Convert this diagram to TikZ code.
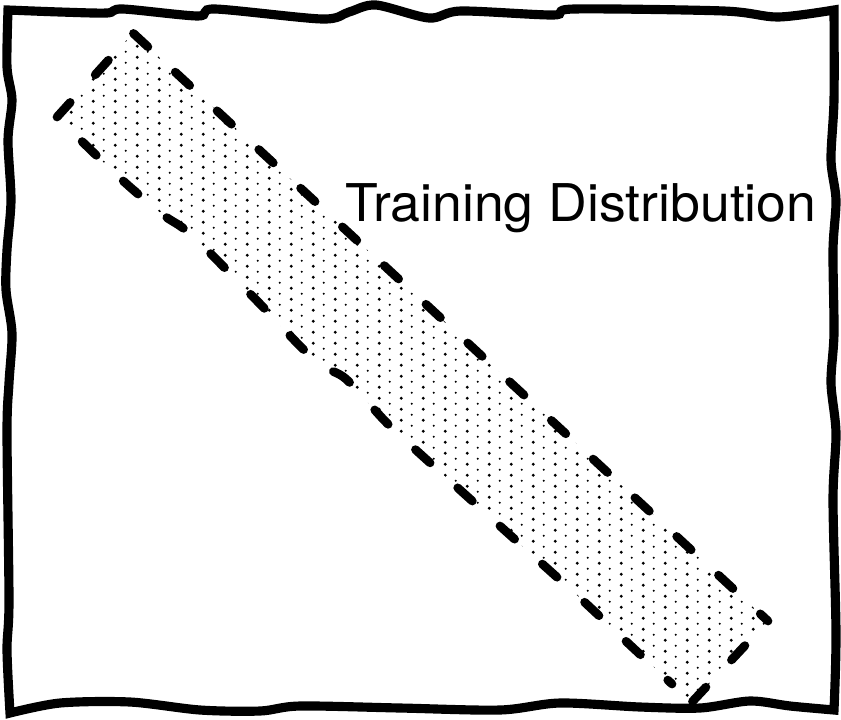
\documentclass[tikz,border=0pt]{standalone}
\usepackage{graphicx}
\usepackage{fontspec}
\setmainfont{TeX Gyre Heros}
\usetikzlibrary{patterns}

% staggered dot fill for the band, big and small dots
\pgfdeclarepatternformonly{sparsedots}{\pgfqpoint{0pt}{0pt}}{\pgfqpoint{15.65pt}{7.82pt}}{\pgfqpoint{15.65pt}{7.82pt}}{
        \pgfpathcircle{\pgfqpoint{3.9pt}{1.95pt}}{1.15pt}
        \pgfpathcircle{\pgfqpoint{11.7pt}{5.86pt}}{0.85pt}
        \pgfusepath{fill}
}

\tikzset{
        frame/.style = {line width=6.5pt},
        edge/.style = {line width=6.2pt, line cap=round, dash pattern=on 14pt off 26.5pt},
        caption/.style = {font=\fontsize{37}{44}\selectfont, inner sep=0pt, anchor=base west}
}

\begin{document}
\begin{tikzpicture}[x=0.025cm, y=-0.025cm]

        \useasboundingbox (0,0) rectangle (841,719);

        % Wobbly frame
        \draw [frame] plot[smooth] coordinates {(8,10) (60,12) (107,13) (123,9) (198,16) (215,9) (322,19) (349,12) (376,5) (429,18) (461,11) (553,15) (574,9) (724,11) (778,17) (834,10)}
                -- plot[smooth] coordinates {(834,10) (834,100) (831,160) (836,200) (833,250) (834,333) (831,383) (836,433) (833,500) (836,633) (834,710)}
                -- plot[smooth] coordinates {(834,710) (790,706) (750,701) (700,708) (640,707) (560,703) (500,710) (400,708) (300,706) (260,711) (200,710) (130,702) (60,703) (10,713)}
                -- plot[smooth] coordinates {(10,713) (7,650) (9,600) (7,433) (9,383) (12,333) (6,290) (7,250) (11,200) (8,140) (12,100) (7,67) (8,10)}
                -- cycle;

        % Dotted band
        \coordinate (top) at (133,33);
        \coordinate (right) at (768,621);
        \coordinate (bottom) at (692,702);
        \coordinate (left) at (57,117);
        \fill [pattern=sparsedots] (left) -- (top) -- (right) -- (bottom)
                -- plot[smooth, tension=0.5] coordinates {(692,702) (630,645) (580,598) (500,526) (406,441) (384,420) (346,379) (324,367) (301,347) (263,307) (205,248) (183,228) (162,214) (120,178) (57,117)}
                -- cycle;

        % Dashed outline, one stroke per side
        \draw [edge] (left) -- (top) -- (right);
        \draw [edge, dash phase=16.5pt] (right) -- (bottom);
        \draw [edge, dash phase=15.5pt] plot[smooth, tension=0.5] coordinates {(57,117) (120,178) (162,214) (183,228) (205,248) (263,307) (301,347) (324,367) (346,379) (384,420) (406,441) (500,526) (580,598) (630,645) (672,684)};

        % Label
        \node [caption] (trainlbl) at (345,221) {\scalebox{1.03}[1]{Training Distribution}};

\end{tikzpicture}
\end{document}
